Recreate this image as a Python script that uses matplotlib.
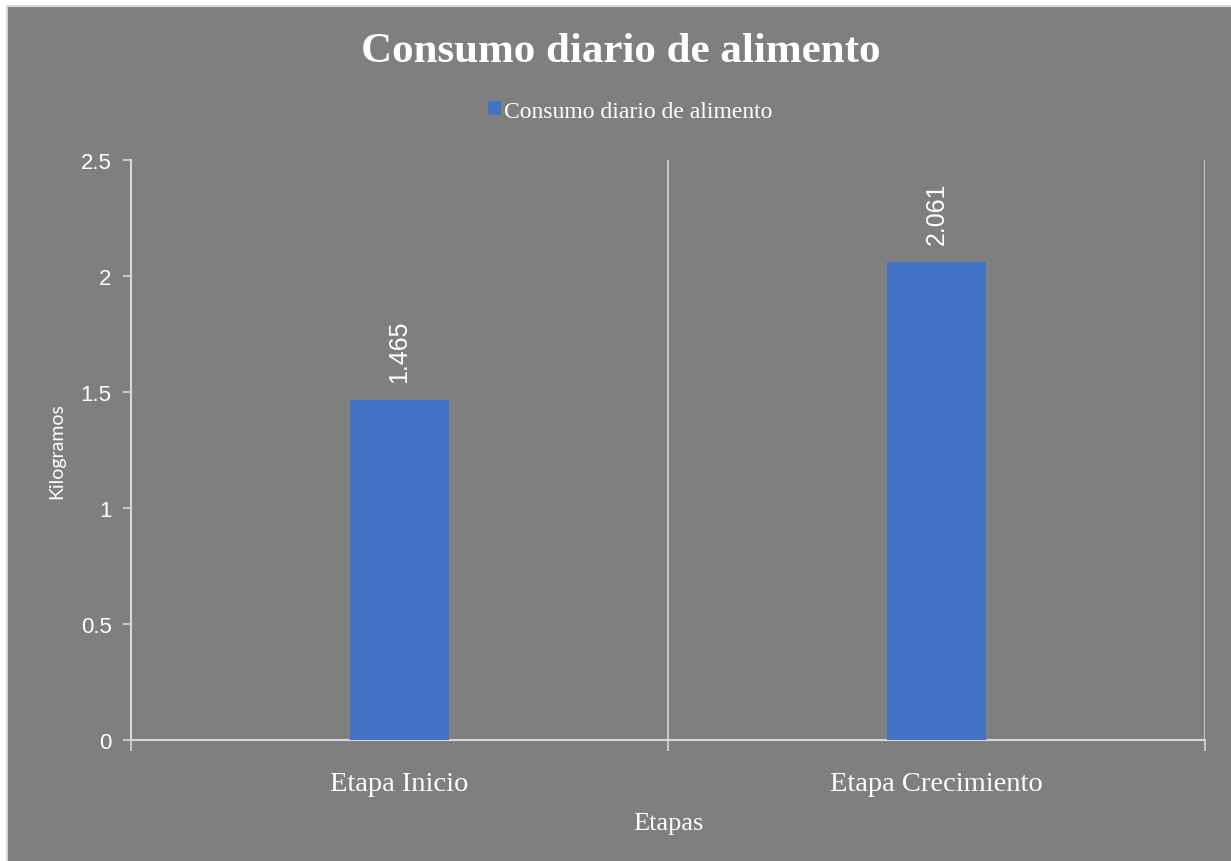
import matplotlib
matplotlib.use("Agg")
import matplotlib.pyplot as plt
from matplotlib.patches import Rectangle, Patch

categories = ["Etapa Inicio", "Etapa Crecimiento"]
values = [1.465, 2.061]
series_name = "Consumo diario de alimento"
title = "Consumo diario de alimento"
ylabel = "Kilogramos"
xlabel = "Etapas"
yticks = [0, 0.5, 1, 1.5, 2, 2.5]
ytick_labels = ["0", "0.5", "1", "1.5", "2", "2.5"]

W, H = 1231, 862
BG = "#7f7f7f"
GRID = "#d9d9d9"
BAR = "#4472C4"
SERIF = "Liberation Serif"
SANS = "Liberation Sans"

fig = plt.figure(figsize=(W / 100, H / 100), dpi=100, facecolor="white")
fig.patches.append(Rectangle((7 / W, -0.01), 1.02, (H - 7) / H + 0.01,
                             transform=fig.transFigure, facecolor=BG,
                             edgecolor=GRID, linewidth=1.5, zorder=-5))

ax = fig.add_axes([131 / W, 1 - 741 / H, (1205 - 131) / W, (741 - 161) / H])
ax.set_facecolor("none")
ax.set_zorder(2)

x = list(range(len(categories)))
bars = ax.bar(x, values, width=0.185, color=BAR, label=series_name, zorder=3)

ax.set_xlim(-0.5, len(categories) - 0.5)
ax.set_ylim(0, 2.5)

for b in [i + 0.5 for i in range(len(categories))]:
    ax.axvline(b, color=GRID, linewidth=1.2, zorder=1)

for s in ["top", "right"]:
    ax.spines[s].set_visible(False)
for s in ["left", "bottom"]:
    ax.spines[s].set_color(GRID)
    ax.spines[s].set_linewidth(1.5)

ax.set_yticks(yticks)
ax.set_yticklabels(ytick_labels, fontfamily=SANS, fontsize=16, color="white")
ax.tick_params(axis="y", length=6, width=1.2, color=GRID, pad=8)

ax.set_xticks(x)
ax.set_xticklabels(categories, fontfamily=SERIF, fontsize=20.5, color="white")
ax.set_xticks([i - 0.5 for i in range(len(categories) + 1)], minor=True)
ax.tick_params(axis="x", which="major", length=0, pad=22)
ax.tick_params(axis="x", which="minor", length=8, width=1.2, color=GRID)

ax.set_xlabel(xlabel, fontfamily=SERIF, fontsize=19, color="white", labelpad=12)
ax.set_ylabel(ylabel, fontfamily="Lato", fontsize=14, color="white", labelpad=11)

for rect, v in zip(bars, values):
    ax.annotate(f"{v:.3f}", xy=(rect.get_x() + rect.get_width() / 2, v),
                xytext=(0, 13), textcoords="offset points", rotation=90,
                ha="center", va="bottom", fontfamily=SANS, fontsize=18,
                color="white", zorder=4)

fig.text(621 / W, 1 - 52 / H, title, ha="center", va="center",
         fontfamily=SERIF, fontweight="bold", fontsize=31, color="white")

fig.legend(handles=[Patch(facecolor=BAR, label=series_name)],
           loc="center", bbox_to_anchor=(630 / W, 1 - 112 / H),
           frameon=False, handlelength=0.55, handleheight=0.55,
           handletextpad=0.15, prop={"family": SERIF, "size": 17},
           labelcolor="white")

fig.savefig("out.png", dpi=100, facecolor=fig.get_facecolor())
